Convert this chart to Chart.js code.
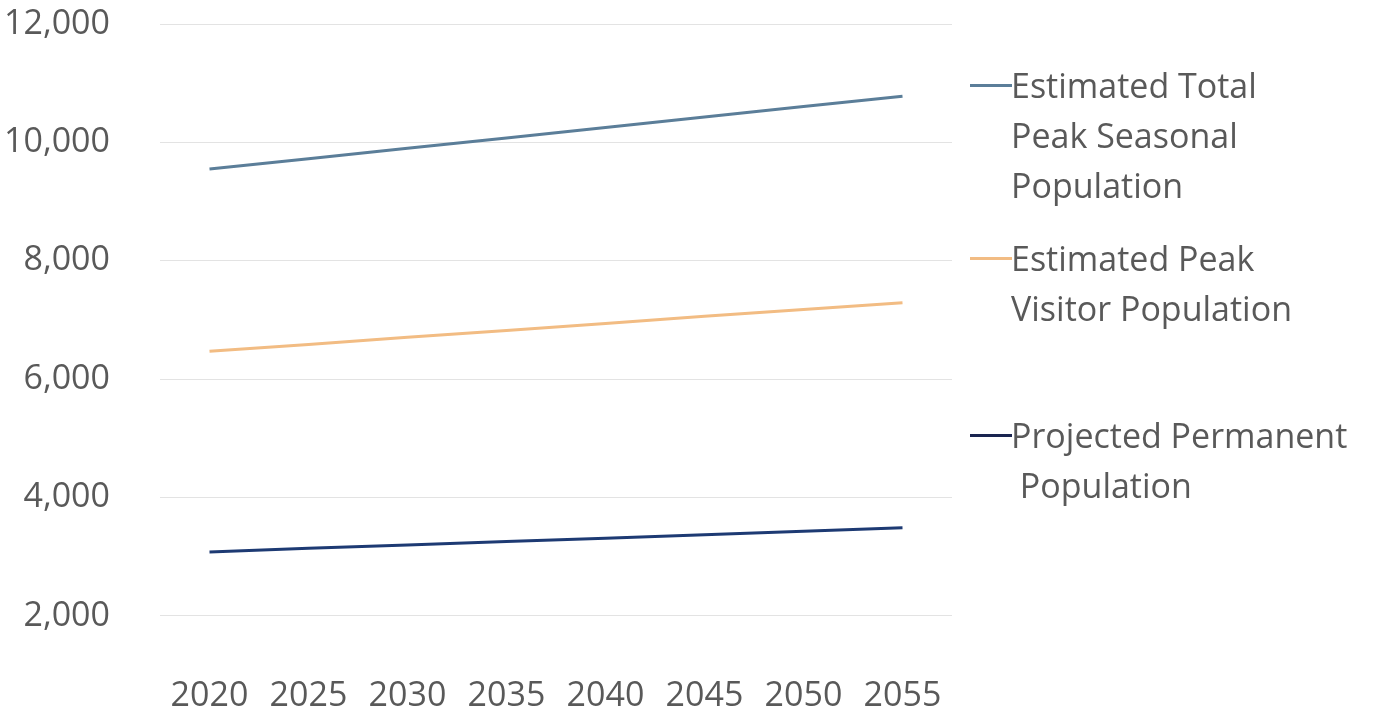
<!DOCTYPE html>
<html>
<head>
<meta charset="utf-8">
<script src="https://cdn.jsdelivr.net/npm/chart.js@4.4.0/dist/chart.umd.min.js"></script>
<style>
  html, body { margin: 0; padding: 0; background: #fff; }
  #wrap { position: relative; width: 1375px; height: 713px; }
  canvas { position: absolute; left: 0; top: 0; }
  .leg { position: absolute; font-family: "Open Sans", sans-serif; font-size: 34px; line-height: 50px; color: #595959; white-space: pre; }
  .sw { position: absolute; width: 42px; height: 3px; }
</style>
</head>
<body>
<div id="wrap">
  <canvas id="c" width="1375" height="713"></canvas>
</div>
<script>
const years = ["2020", "2025", "2030", "2035", "2040", "2045", "2050", "2055"];
const totalPeak = [9550, 9725, 9900, 10075, 10250, 10430, 10605, 10780];
const visitorPeak = [6470, 6585, 6705, 6820, 6940, 7060, 7175, 7290];
const permanent = [3080, 3140, 3195, 3255, 3310, 3370, 3430, 3490];
const yTicks = [2000, 4000, 6000, 8000, 10000, 12000];

const seriesNames = [
  ["Estimated Total", "Peak Seasonal", "Population"],
  ["Estimated Peak", "Visitor Population"],
  ["Projected Permanent", " Population"]
];
const colors = ["#5b7e99", "#f2bc83", "#1d3a73"];
const legendSwatch = ["#5b7e99", "#f2bc83", "#1a2550"];
const legendTops = [60, 233, 410];

const chart = new Chart(document.getElementById('c'), {
  type: 'line',
  data: {
    labels: years,
    datasets: [
      { label: seriesNames[0].join(' '), data: totalPeak, borderColor: colors[0], borderWidth: 3, pointRadius: 0, tension: 0 },
      { label: seriesNames[1].join(' '), data: visitorPeak, borderColor: colors[1], borderWidth: 3, pointRadius: 0, tension: 0 },
      { label: seriesNames[2].join(' '), data: permanent, borderColor: colors[2], borderWidth: 3, pointRadius: 0, tension: 0 }
    ]
  },
  options: {
    responsive: false,
    animation: false,
    layout: { padding: { top: 24, right: 423, bottom: 0, left: 0 } },
    plugins: { legend: { display: false }, tooltip: { enabled: false } },
    scales: {
      x: {
        offset: true,
        grid: { display: false, drawTicks: false },
        border: { display: false },
        ticks: { color: '#595959', font: { family: 'Open Sans', size: 34 }, padding: 1, maxRotation: 0 },
        afterFit: (s) => { s.height = 38; s.paddingLeft = 0; s.paddingRight = 0; }
      },
      y: {
        min: 1000,
        max: 12000,
        afterBuildTicks: (s) => { s.ticks = yTicks.map(v => ({ value: v })); },
        grid: { color: '#e3e3e3', lineWidth: 1, drawTicks: false },
        border: { display: false },
        ticks: {
          color: '#595959',
          font: { family: 'Open Sans', size: 34 },
          padding: 50,
          callback: (v) => v.toLocaleString('en-US')
        },
        afterFit: (s) => { s.width = 160; s.paddingTop = 0; s.paddingBottom = 0; }
      }
    }
  }
});

const wrap = document.getElementById('wrap');
seriesNames.forEach((lines, i) => {
  const d = document.createElement('div');
  d.className = 'leg';
  d.style.left = '1011px';
  d.style.top = legendTops[i] + 'px';
  d.textContent = lines.join('\n');
  wrap.appendChild(d);
  const sw = document.createElement('div');
  sw.className = 'sw';
  sw.style.left = '970px';
  sw.style.top = (legendTops[i] + 24) + 'px';
  sw.style.background = legendSwatch[i];
  wrap.appendChild(sw);
});
</script>
</body>
</html>
